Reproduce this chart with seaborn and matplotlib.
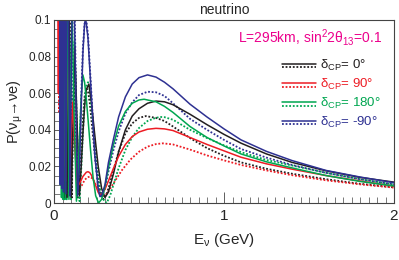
import numpy as np
import pandas as pd
import seaborn as sns
import matplotlib.pyplot as plt
from matplotlib.ticker import MultipleLocator

# curves: solid = with matter, dotted = without
# delta_CP = -90 (blue)
e_bs = [0.032, 0.037, 0.041, 0.046, 0.051, 0.056, 0.062, 0.070, 0.080, 0.093, 0.112, 0.125, 0.139, 0.150, 0.160, 0.170, 0.180, 0.186, 0.200, 0.220, 0.240, 0.260, 0.270, 0.280, 0.300, 0.320, 0.350, 0.380, 0.420, 0.460, 0.500, 0.550, 0.600, 0.650, 0.700, 0.800, 0.900, 1.000, 1.100, 1.250, 1.400, 1.600, 1.800, 2.000]
p_bs = [0.20, 0.01, 0.20, 0.008, 0.20, 0.006, 0.20, 0.005, 0.18, 0.004, 0.15, 0.075, 0.004, 0.020, 0.052, 0.082, 0.098, 0.101, 0.090, 0.058, 0.026, 0.008, 0.0035, 0.004, 0.010, 0.022, 0.035, 0.047, 0.058, 0.065, 0.0685, 0.070, 0.0688, 0.066, 0.0624, 0.0540, 0.0470, 0.0405, 0.0345, 0.0282, 0.0232, 0.0178, 0.0142, 0.0111]
e_bd = [0.034, 0.039, 0.044, 0.048, 0.053, 0.058, 0.064, 0.072, 0.083, 0.096, 0.115, 0.128, 0.140, 0.150, 0.160, 0.170, 0.180, 0.190, 0.200, 0.220, 0.240, 0.260, 0.280, 0.300, 0.320, 0.350, 0.380, 0.420, 0.460, 0.500, 0.550, 0.600, 0.650, 0.700, 0.800, 0.900, 1.000, 1.100, 1.250, 1.400, 1.600, 1.800, 2.000]
p_bd = [0.20, 0.01, 0.20, 0.008, 0.20, 0.006, 0.20, 0.005, 0.17, 0.004, 0.14, 0.07, 0.006, 0.028, 0.058, 0.085, 0.098, 0.100, 0.092, 0.060, 0.027, 0.008, 0.003, 0.008, 0.017, 0.029, 0.039, 0.049, 0.055, 0.059, 0.0608, 0.0605, 0.0585, 0.0545, 0.0460, 0.0400, 0.0345, 0.0295, 0.0248, 0.0208, 0.0165, 0.0130, 0.0102]

# delta_CP = 0 (black)
e_ks = [0.036, 0.041, 0.047, 0.051, 0.055, 0.061, 0.068, 0.076, 0.087, 0.102, 0.122, 0.137, 0.150, 0.160, 0.170, 0.180, 0.190, 0.205, 0.220, 0.240, 0.260, 0.280, 0.300, 0.320, 0.350, 0.380, 0.420, 0.460, 0.500, 0.550, 0.600, 0.650, 0.700, 0.800, 0.900, 1.000, 1.100, 1.250, 1.400, 1.600, 1.800, 2.000]
p_ks = [0.20, 0.01, 0.15, 0.004, 0.15, 0.003, 0.13, 0.003, 0.11, 0.003, 0.085, 0.04, 0.004, 0.020, 0.038, 0.053, 0.062, 0.065, 0.055, 0.037, 0.020, 0.008, 0.003, 0.006, 0.016, 0.028, 0.040, 0.0475, 0.0515, 0.0545, 0.0557, 0.0553, 0.0537, 0.0485, 0.0428, 0.0375, 0.0327, 0.0268, 0.0222, 0.0176, 0.0140, 0.0114]
e_kd = [0.038, 0.043, 0.048, 0.053, 0.058, 0.064, 0.072, 0.080, 0.092, 0.105, 0.118, 0.130, 0.140, 0.150, 0.160, 0.170, 0.180, 0.190, 0.200, 0.210, 0.230, 0.250, 0.270, 0.290, 0.310, 0.330, 0.350, 0.380, 0.420, 0.460, 0.500, 0.540, 0.600, 0.650, 0.700, 0.800, 0.900, 1.000, 1.100, 1.250, 1.400, 1.600, 1.800, 2.000]
p_kd = [0.20, 0.01, 0.15, 0.004, 0.14, 0.003, 0.12, 0.003, 0.10, 0.003, 0.075, 0.035, 0.003, 0.012, 0.028, 0.046, 0.058, 0.063, 0.061, 0.055, 0.036, 0.018, 0.006, 0.002, 0.005, 0.011, 0.018, 0.028, 0.038, 0.0435, 0.0465, 0.0475, 0.0465, 0.0448, 0.0418, 0.0355, 0.0300, 0.0258, 0.0222, 0.0187, 0.0160, 0.0130, 0.0105, 0.0086]

# delta_CP = 180 (green)
e_gs = [0.036, 0.040, 0.044, 0.048, 0.053, 0.059, 0.066, 0.0755, 0.088, 0.097, 0.106, 0.118, 0.132, 0.140, 0.150, 0.160, 0.170, 0.180, 0.190, 0.200, 0.215, 0.230, 0.245, 0.262, 0.280, 0.300, 0.320, 0.350, 0.380, 0.420, 0.460, 0.500, 0.530, 0.600, 0.650, 0.700, 0.800, 0.900, 1.000, 1.100, 1.250, 1.400, 1.600, 1.800, 2.000]
p_gs = [0.01, 0.20, 0.003, 0.20, 0.002, 0.17, 0.002, 0.14, 0.002, 0.06, 0.105, 0.05, 0.001, 0.012, 0.035, 0.058, 0.070, 0.066, 0.057, 0.046, 0.029, 0.014, 0.004, 0.0, 0.002, 0.009, 0.019, 0.032, 0.042, 0.050, 0.0545, 0.0563, 0.0567, 0.0553, 0.0528, 0.0495, 0.0418, 0.0358, 0.0312, 0.0268, 0.0225, 0.0192, 0.0150, 0.0118, 0.0093]
e_gd = [0.039, 0.043, 0.050, 0.055, 0.060, 0.067, 0.075, 0.086, 0.100, 0.110, 0.120, 0.132, 0.150, 0.160, 0.170, 0.180, 0.190, 0.200, 0.210, 0.230, 0.250, 0.270, 0.290, 0.310, 0.330, 0.350, 0.380, 0.420, 0.460, 0.500, 0.550, 0.600, 0.630, 0.650, 0.700, 0.800, 0.900, 1.000, 1.100, 1.250, 1.400, 1.600, 1.800, 2.000]
p_gd = [0.01, 0.20, 0.003, 0.18, 0.002, 0.15, 0.002, 0.12, 0.002, 0.05, 0.088, 0.05, 0.001, 0.018, 0.038, 0.055, 0.064, 0.066, 0.062, 0.042, 0.022, 0.008, 0.002, 0.0, 0.004, 0.010, 0.019, 0.029, 0.036, 0.041, 0.0448, 0.0466, 0.0470, 0.0469, 0.0455, 0.0400, 0.0355, 0.0315, 0.0278, 0.0235, 0.0205, 0.0165, 0.0130, 0.0101]

# delta_CP = 90 (red)
e_rs = [0.020, 0.026, 0.030, 0.035, 0.042, 0.046, 0.050, 0.055, 0.061, 0.068, 0.078, 0.091, 0.100, 0.109, 0.120, 0.137, 0.150, 0.170, 0.190, 0.200, 0.210, 0.220, 0.240, 0.260, 0.270, 0.280, 0.300, 0.320, 0.350, 0.380, 0.420, 0.460, 0.500, 0.550, 0.600, 0.650, 0.700, 0.800, 0.900, 1.000, 1.100, 1.250, 1.400, 1.600, 1.800, 2.000]
p_rs = [0.20, 0.06, 0.20, 0.04, 0.20, 0.03, 0.16, 0.02, 0.13, 0.012, 0.10, 0.008, 0.035, 0.055, 0.035, 0.009, 0.0105, 0.0145, 0.0168, 0.0171, 0.0166, 0.0152, 0.0108, 0.0058, 0.0045, 0.0048, 0.0075, 0.0120, 0.0190, 0.0255, 0.0320, 0.0363, 0.0388, 0.0403, 0.0408, 0.0405, 0.0396, 0.0358, 0.0320, 0.0285, 0.0250, 0.0214, 0.0185, 0.0150, 0.0120, 0.0092]
e_rd = [0.024, 0.030, 0.036, 0.040, 0.044, 0.048, 0.053, 0.058, 0.065, 0.073, 0.083, 0.097, 0.106, 0.116, 0.128, 0.145, 0.160, 0.180, 0.195, 0.210, 0.225, 0.240, 0.260, 0.275, 0.290, 0.310, 0.330, 0.360, 0.400, 0.450, 0.500, 0.550, 0.600, 0.640, 0.700, 0.800, 0.900, 1.000, 1.100, 1.250, 1.400, 1.600, 1.800, 2.000]
p_rd = [0.20, 0.05, 0.20, 0.035, 0.18, 0.028, 0.15, 0.02, 0.12, 0.014, 0.09, 0.009, 0.03, 0.045, 0.028, 0.007, 0.009, 0.0125, 0.0140, 0.0144, 0.0135, 0.0112, 0.0075, 0.0050, 0.0038, 0.0050, 0.0078, 0.0122, 0.0180, 0.0238, 0.0280, 0.0308, 0.0322, 0.0326, 0.0320, 0.0292, 0.0260, 0.0233, 0.0208, 0.0178, 0.0152, 0.0124, 0.0102, 0.0084]

cp_labels = ['0°', '90°', '180°', '-90°']
cp_colors = ['#231f20', '#ed1c24', '#00a650', '#2e3192']

sns.set_theme(style='ticks')
plt.rcParams['font.family'] = ['Liberation Sans', 'DejaVu Sans']
plt.rcParams['mathtext.fontset'] = 'custom'
plt.rcParams['mathtext.rm'] = 'Liberation Sans'
plt.rcParams['mathtext.it'] = 'Liberation Sans:italic'

fig = plt.figure(figsize=(3.99, 2.60), dpi=100)
ax = fig.add_axes([54/399, 57/260, 340/399, 183/260])

curves = [
    (e_ks, p_ks, e_kd, p_kd),
    (e_rs, p_rs, e_rd, p_rd),
    (e_gs, p_gs, e_gd, p_gd),
    (e_bs, p_bs, e_bd, p_bd),
]
# draw dotted first, solid on top
for (es, ps, ed, pd_), col in zip(curves, cp_colors):
    sns.lineplot(x=ed, y=pd_, ax=ax, color=col, lw=1.3, linestyle=(0, (1, 1)), estimator=None, sort=False)
for (es, ps, ed, pd_), col in zip(curves, cp_colors):
    sns.lineplot(x=es, y=ps, ax=ax, color=col, lw=1.1, estimator=None, sort=False)

ax.set_xlim(0, 2)
ax.set_ylim(0, 0.1)
ax.xaxis.set_minor_locator(MultipleLocator(0.05))
ax.yaxis.set_minor_locator(MultipleLocator(0.005))
ax.set_xticks([0, 1, 2], ['0', '1', '2'])
ax.set_yticks([0, 0.02, 0.04, 0.06, 0.08, 0.1], ['0', '0.02', '0.04', '0.06', '0.08', '0.1'])
ax.tick_params(axis='x', which='major', direction='in', length=8, width=0.6, labelsize=11, pad=4, color='#444444')
ax.tick_params(axis='y', which='major', direction='in', length=6, width=0.6, labelsize=8.5, pad=2, color='#444444')
ax.tick_params(which='minor', direction='in', length=4, width=0.5, color='#444444')
for s in ax.spines.values():
    s.set_linewidth(0.8)
    s.set_color('#444444')

ax.set_xlabel(r'E$_{\mathrm{\nu}}$ (GeV)', fontsize=11, labelpad=6)
ax.set_ylabel(r'P(ν$_{\mathrm{\mu}}$→νe)', fontsize=10.5, labelpad=2)
ax.set_title('neutrino', fontsize=10, pad=4)

ax.text(0.965, 0.907, r'L=295km, sin$^{\mathrm{2}}$2θ$_{\mathrm{13}}$=0.1', transform=ax.transAxes,
        ha='right', va='center', fontsize=10, color='#ec008c')

# legend: solid over dotted sample, coloured label
rows = [0.760, 0.655, 0.550, 0.450]
for y0, col, lab in zip(rows, cp_colors, cp_labels):
    ax.plot([0.671, 0.771], [y0, y0], color=col, lw=1.1, transform=ax.transAxes)
    ax.plot([0.671, 0.771], [y0 - 0.019, y0 - 0.019], color=col, lw=1.3, linestyle=(0, (1, 1)), transform=ax.transAxes)
    ax.text(0.782, y0 - 0.008, r'δ$_{\mathrm{CP}}$= ' + lab, transform=ax.transAxes,
            ha='left', va='center', fontsize=9.5, color=col)

fig.savefig('out.png', dpi=100)
